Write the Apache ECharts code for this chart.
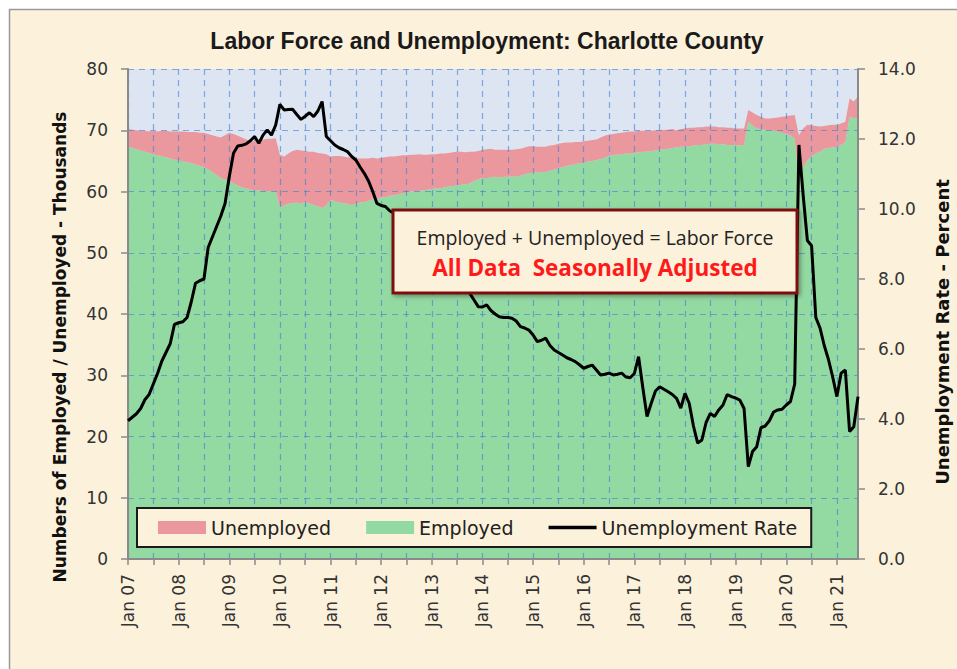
<!DOCTYPE html>
<html>
<head>
<meta charset="utf-8">
<script src="https://cdn.jsdelivr.net/npm/echarts@6/dist/echarts.min.js"></script>
<style>
html,body{margin:0;padding:0;background:#fff;}
#chart{width:957px;height:669px;}
</style>
</head>
<body>
<div id="chart"></div>
<script>
// ---------- DATA ----------
var monthNames = ['Jan','Feb','Mar','Apr','May','Jun','Jul','Aug','Sep','Oct','Nov','Dec'];
var yearLabels = ['07','08','09','10','11','12','13','14','15','16','17','18','19','20','21'];
var monthsInLastYear = 6; // data runs Jan 07 .. Jun 21

// Employed (thousands)
var employed = [
 67.3,67.1,66.9,66.7,66.5,66.3,66.1,65.9,65.8,65.6,65.4,65.2,
 65.1,64.9,64.8,64.6,64.4,64.2,64.0,63.6,63.2,62.7,62.2,61.9,
 61.8,61.3,61.0,60.7,60.5,60.3,60.2,60.2,60.1,60.1,60.0,60.1,
 57.5,57.7,58.0,58.1,58.2,58.0,58.3,58.1,57.8,57.6,57.3,57.8,
 58.6,58.4,58.2,58.1,58.0,57.8,58.0,58.2,58.3,58.5,58.7,58.9,
 59.0,59.1,59.3,59.4,59.5,59.7,59.8,60.0,60.0,60.1,60.2,60.3,
 60.4,60.5,60.5,60.7,60.8,60.9,61.0,61.1,61.2,61.3,61.7,62.0,
 62.2,62.2,62.3,62.4,62.3,62.4,62.4,62.5,62.4,62.6,62.8,63.0,
 63.1,63.1,63.2,63.2,63.4,63.6,63.8,64.0,64.2,64.3,64.5,64.6,
 64.7,64.9,65.0,65.1,65.3,65.5,65.8,66.0,66.0,66.1,66.2,66.2,
 66.3,66.4,66.5,66.5,66.6,66.7,66.8,66.9,67.0,67.1,67.2,67.3,
 67.3,67.4,67.5,67.6,67.6,67.7,67.8,67.8,67.7,67.7,67.6,67.6,
 67.6,67.5,67.6,71.4,70.8,70.3,70.2,70.1,70.0,69.9,69.8,69.6,
 69.4,69.2,68.6,61.8,64.0,65.1,65.8,66.2,66.5,67.0,67.1,67.2,
 67.3,67.6,68.1,72.2,72.0,71.9
];

// Labor force (thousands) = employed + unemployed
var laborForce = [
 70.2,70.1,70.0,69.9,69.9,69.8,69.9,69.8,69.9,69.9,69.8,69.8,
 69.8,69.8,69.7,69.7,69.7,69.6,69.6,69.4,69.2,69.0,68.8,69.2,
 69.6,69.4,69.1,68.8,68.5,68.3,68.2,68.3,68.5,68.6,68.6,68.7,
 66.0,65.7,66.2,66.6,66.8,66.7,66.6,66.5,66.5,66.3,66.2,66.1,
 65.7,65.8,65.8,65.7,65.6,65.5,65.4,65.4,65.4,65.4,65.5,65.4,
 65.5,65.6,65.7,65.7,65.8,65.9,65.9,66.0,66.0,66.1,66.0,66.0,
 66.1,66.1,66.2,66.2,66.3,66.4,66.5,66.5,66.4,66.5,66.5,66.6,
 66.8,66.9,67.0,66.8,66.8,66.8,66.8,66.8,66.9,67.0,67.2,67.4,
 67.4,67.3,67.3,67.3,67.5,67.6,67.8,67.9,68.0,68.0,68.1,68.1,
 68.2,68.3,68.4,68.5,68.8,69.1,69.3,69.4,69.5,69.6,69.7,69.8,
 69.8,69.9,69.9,69.9,69.9,70.0,70.0,70.1,70.1,70.2,70.0,70.2,
 70.3,70.4,70.4,70.5,70.5,70.6,70.6,70.6,70.5,70.5,70.4,70.4,
 70.3,70.3,70.3,73.3,72.9,72.5,72.2,71.9,71.9,72.0,72.1,72.2,
 72.3,72.4,72.5,69.2,70.3,70.9,70.8,70.7,70.6,70.7,70.8,70.9,
 70.9,71.1,71.4,75.2,74.7,75.5
];

// Unemployment rate (percent)
var unemploymentRate = [
 3.95,4.05,4.15,4.3,4.55,4.7,5.0,5.3,5.65,5.9,6.15,6.7,
 6.75,6.78,6.9,7.35,7.88,7.95,8.0,8.9,9.2,9.5,9.8,10.16,
 10.92,11.59,11.8,11.82,11.86,11.95,12.07,11.88,12.11,12.26,12.11,12.4,
 12.99,12.83,12.84,12.85,12.7,12.56,12.65,12.75,12.64,12.8,13.07,12.07,
 11.95,11.83,11.75,11.7,11.64,11.5,11.4,11.2,11.02,10.8,10.5,10.16,
 10.1,10.07,9.95,9.88,9.75,9.65,9.5,9.4,9.25,9.1,9.0,8.9,
 8.75,8.6,8.5,8.35,8.2,8.1,7.95,7.8,7.7,7.59,7.4,7.21,
 7.2,7.26,7.1,7.0,6.92,6.9,6.9,6.88,6.8,6.64,6.6,6.54,
 6.4,6.21,6.25,6.31,6.1,5.97,5.9,5.83,5.75,5.7,5.64,5.55,
 5.45,5.5,5.54,5.4,5.26,5.28,5.31,5.26,5.28,5.31,5.2,5.18,
 5.3,5.78,4.9,4.07,4.45,4.8,4.92,4.85,4.78,4.7,4.59,4.31,
 4.73,4.45,3.8,3.31,3.4,3.9,4.16,4.07,4.26,4.4,4.7,4.64,
 4.6,4.54,4.3,2.64,3.07,3.21,3.75,3.8,3.95,4.2,4.26,4.28,
 4.4,4.5,5.0,11.83,10.4,9.1,8.95,6.9,6.6,6.1,5.7,5.2,
 4.64,5.31,5.4,3.64,3.78,4.64
];

var leftTicks = [0,10,20,30,40,50,60,70,80];
var rightTicks = [0,2,4,6,8,10,12,14];

// ---------- BUILD ----------
var categories = [];
yearLabels.forEach(function(y, yi){
  var n = (yi === yearLabels.length - 1) ? monthsInLastYear : 12;
  for (var m = 0; m < n; m++) categories.push(monthNames[m] + ' ' + y);
});
var unemployed = laborForce.map(function(v, i){ return +(v - employed[i]).toFixed(2); });

var GREEN = '#93D9A2', PINK = '#EA989D', PLOTBG = '#DCE5F1';
var gridLine = { type: [6,5], color: 'rgba(60,125,215,0.6)', width: 1.2 };

var chart = echarts.init(document.getElementById('chart'), null, {renderer: 'svg'});
chart.setOption({
  backgroundColor: '#FCF1DB',
  animation: false,
  grid: { left: 128, right: 99, top: 69, bottom: 110, show: true, backgroundColor: PLOTBG, borderWidth: 0 },
  legend: {
    left: 137, top: 508,
    padding: [10, 14, 10, 21],
    backgroundColor: '#FCF1DB', borderColor: '#1a1a1a', borderWidth: 2,
    itemWidth: 48, itemHeight: 13, itemGap: 35,
    textStyle: { fontFamily: 'DejaVu Sans', fontSize: 19, color: '#222' },
    data: [
      { name: 'Unemployed', icon: 'rect' },
      { name: 'Employed', icon: 'rect' },
      { name: 'Unemployment Rate', icon: 'path://M0,0H100V7H0Z' }
    ],
    z: 20
  },
  xAxis: {
    type: 'category', data: categories, boundaryGap: false, z: 3,
    axisLine: { lineStyle: { color: '#8a8a8a', width: 2 } },
    axisTick: { show: true, interval: 5, length: 6, lineStyle: { color: '#8a8a8a', width: 1.5 } },
    axisLabel: { interval: 11, rotate: 90, margin: 15, fontFamily: 'DejaVu Sans', fontSize: 17, color: '#333' },
    splitLine: { show: true, interval: 5, lineStyle: gridLine }
  },
  yAxis: [
    {
      type: 'value', min: leftTicks[0], max: leftTicks[leftTicks.length-1], interval: 10, z: 3,
      axisLine: { show: true, lineStyle: { color: '#8a8a8a', width: 2 } },
      axisTick: { show: true, length: 7, lineStyle: { color: '#8a8a8a', width: 1.5 } },
      axisLabel: { margin: 20, fontFamily: 'DejaVu Sans', fontSize: 17, color: '#333' },
      splitLine: { show: true, lineStyle: gridLine }
    },
    {
      type: 'value', min: rightTicks[0], max: rightTicks[rightTicks.length-1], interval: 2, z: 3,
      axisLine: { show: true, lineStyle: { color: '#8a8a8a', width: 2 } },
      axisTick: { show: true, length: 7, lineStyle: { color: '#8a8a8a', width: 1.5 } },
      axisLabel: { margin: 20, fontFamily: 'DejaVu Sans', fontSize: 17, color: '#333',
        formatter: function(v){ return v.toFixed(1); } },
      splitLine: { show: false }
    }
  ],
  series: [
    { name: 'Employed', type: 'line', stack: 'lf', data: employed, symbol: 'none',
      itemStyle: { color: GREEN }, lineStyle: { width: 0 }, areaStyle: { color: GREEN, opacity: 1 }, z: 2 },
    { name: 'Unemployed', type: 'line', stack: 'lf', data: unemployed, symbol: 'none',
      itemStyle: { color: PINK }, lineStyle: { width: 0 }, areaStyle: { color: PINK, opacity: 1 }, z: 2 },
    { name: 'Unemployment Rate', type: 'line', yAxisIndex: 1, data: unemploymentRate, symbol: 'none',
      itemStyle: { color: '#000' }, lineStyle: { color: '#000', width: 3 }, z: 5 }
  ],
  graphic: [
    { type: 'rect', shape: { x: 0, y: 0, width: 957, height: 9 }, style: { fill: '#fff' }, z: 50, silent: true },
    { type: 'rect', shape: { x: 0, y: 0, width: 9, height: 669 }, style: { fill: '#fff' }, z: 50, silent: true },
    { type: 'polyline', shape: { points: [[9.5, 669], [9.5, 9.5], [957, 9.5]] }, style: { stroke: '#9a9a9a', lineWidth: 1.5, fill: null }, z: 51, silent: true },
    { type: 'text', x: 487, y: 41, z: 60,
      style: { text: 'Labor Force and Unemployment: Charlotte County', fontFamily: 'Liberation Sans', fontWeight: 'bold', fontSize: 23, fill: '#1a1a1a', textAlign: 'center', textVerticalAlign: 'middle' } },
    { type: 'text', x: 60, y: 347, rotation: Math.PI / 2, z: 60,
      style: { text: 'Numbers of Employed / Unemployed - Thousands', fontFamily: 'DejaVu Sans', fontWeight: 'bold', fontSize: 17, fill: '#111', textAlign: 'center', textVerticalAlign: 'middle' } },
    { type: 'text', x: 942, y: 332, rotation: Math.PI / 2, z: 60,
      style: { text: 'Unemployment Rate - Percent', fontFamily: 'DejaVu Sans', fontWeight: 'bold', fontSize: 18, fill: '#111', textAlign: 'center', textVerticalAlign: 'middle' } },
    { type: 'rect', z: 60, shape: { x: 393, y: 210, width: 404, height: 83 },
      style: { fill: '#FCF1DB', stroke: '#7E1010', lineWidth: 3, shadowBlur: 4, shadowOffsetX: 2, shadowOffsetY: 2, shadowColor: 'rgba(0,0,0,0.35)' } },
    { type: 'text', x: 595, y: 237, z: 61,
      style: { text: 'Employed + Unemployed = Labor Force', fontFamily: 'Open Sans', fontSize: 19.5, fill: '#222', textAlign: 'center', textVerticalAlign: 'middle' } },
    { type: 'text', x: 595, y: 267, z: 61,
      style: { text: 'All Data  Seasonally Adjusted', fontFamily: 'Open Sans', fontWeight: 'bold', fontSize: 22.5, fill: '#FF1A1A', textAlign: 'center', textVerticalAlign: 'middle' } }
  ]
});
</script>
</body>
</html>
